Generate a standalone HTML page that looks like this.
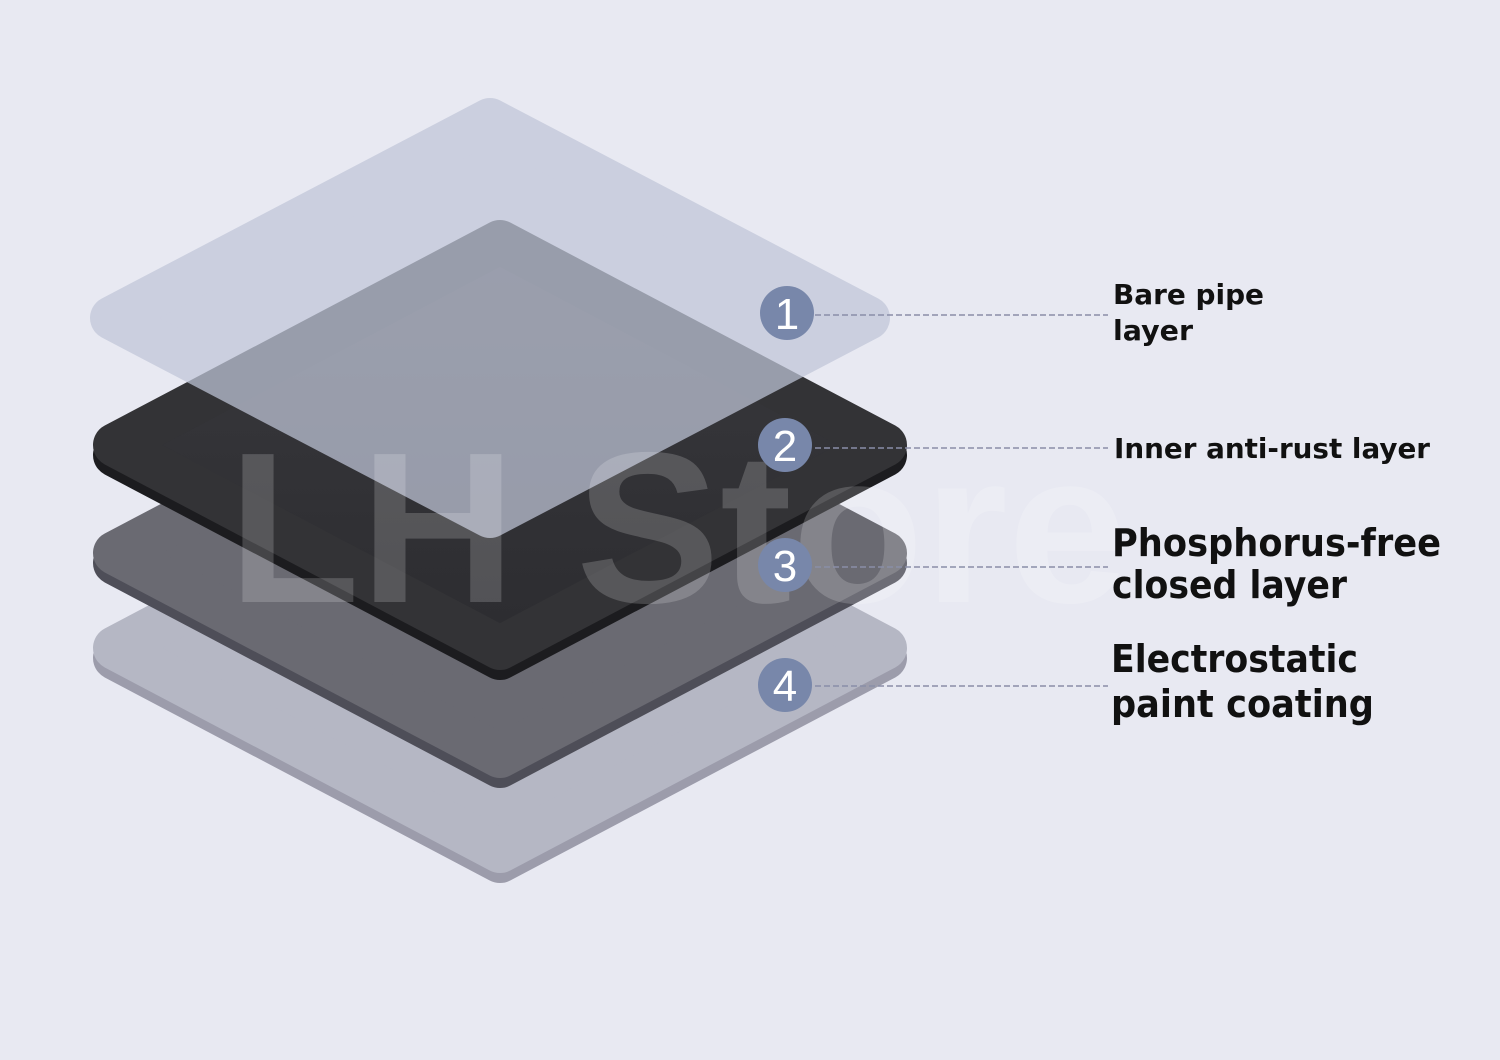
<!DOCTYPE html>
<html><head><meta charset="utf-8"><style>
html,body{margin:0;padding:0;background:#e8e9f2;}
svg{display:block;}
text.l{font-family:"DejaVu Sans","Liberation Sans",sans-serif;font-weight:bold;fill:#111;}
</style></head><body>
<svg width="1500" height="1060" viewBox="0 0 1500 1060" xmlns="http://www.w3.org/2000/svg">
<defs>
<linearGradient id="g2" x1="0" y1="0" x2="0" y2="1">
<stop offset="0" stop-color="#3a3a3e"/><stop offset="1" stop-color="#2c2c30"/>
</linearGradient>
</defs>
<rect width="1500" height="1060" fill="#e8e9f2"/>
<g stroke-linejoin="round" stroke-width="44">
<!-- layer 4 -->
<polygon points="500,455 885,658 500,861 115,658" fill="#9c9cab" stroke="#9c9cab"/>
<polygon points="500,445 885,648 500,851 115,648" fill="#b5b7c4" stroke="#b5b7c4"/>
<!-- layer 3 -->
<polygon points="500,360 885,563 500,766 115,563" fill="#4e4e58" stroke="#4e4e58"/>
<polygon points="500,350 885,553 500,756 115,553" fill="#6a6a72" stroke="#6a6a72"/>
<!-- layer 2 -->
<polygon points="500,252 885,455 500,658 115,455" fill="#1c1c1f" stroke="#1c1c1f"/>
<polygon points="500,242 885,445 500,648 115,445" fill="url(#g2)" stroke="#333336"/>
<!-- layer 1 translucent -->
<polygon points="490,120 868,318 490,516 112,318" fill="#c0c6d8" stroke="#c0c6d8" opacity="0.72"/>
</g>
<!-- watermark -->
<text x="228" y="602" font-family="Liberation Sans,sans-serif" font-weight="bold" font-size="215" fill="#ffffff" fill-opacity="0.18" textLength="900" lengthAdjust="spacingAndGlyphs">LH Store</text>
<!-- dashed leaders -->
<g stroke="#8a8ea8" stroke-width="1.5" stroke-dasharray="6,3">
<line x1="815" y1="315" x2="1108" y2="315"/>
<line x1="815" y1="448" x2="1108" y2="448"/>
<line x1="815" y1="567" x2="1108" y2="567"/>
<line x1="815" y1="686" x2="1108" y2="686"/>
</g>
<g fill="#7887aa">
<circle cx="787" cy="313" r="27"/>
<circle cx="785" cy="445" r="27"/>
<circle cx="785" cy="565" r="27"/>
<circle cx="785" cy="685" r="27"/>
</g>
<g font-family="Liberation Sans,sans-serif" font-size="44" fill="#fff" text-anchor="middle">
<text x="787" y="329">1</text>
<text x="785" y="461">2</text>
<text x="785" y="581">3</text>
<text x="785" y="701">4</text>
</g>
<text class="l" x="1113" y="304" font-size="28" textLength="151" lengthAdjust="spacingAndGlyphs">Bare pipe</text>
<text class="l" x="1113" y="340" font-size="28" textLength="80" lengthAdjust="spacingAndGlyphs">layer</text>
<text class="l" x="1114" y="458" font-size="28" textLength="316" lengthAdjust="spacingAndGlyphs">Inner anti-rust layer</text>
<text class="l" x="1112" y="556" font-size="38" textLength="329" lengthAdjust="spacingAndGlyphs">Phosphorus-free</text>
<text class="l" x="1112" y="598" font-size="38" textLength="235" lengthAdjust="spacingAndGlyphs">closed layer</text>
<text class="l" x="1111" y="672" font-size="38" textLength="247" lengthAdjust="spacingAndGlyphs">Electrostatic</text>
<text class="l" x="1111" y="717" font-size="38" textLength="263" lengthAdjust="spacingAndGlyphs">paint coating</text>
</svg>
</body></html>
